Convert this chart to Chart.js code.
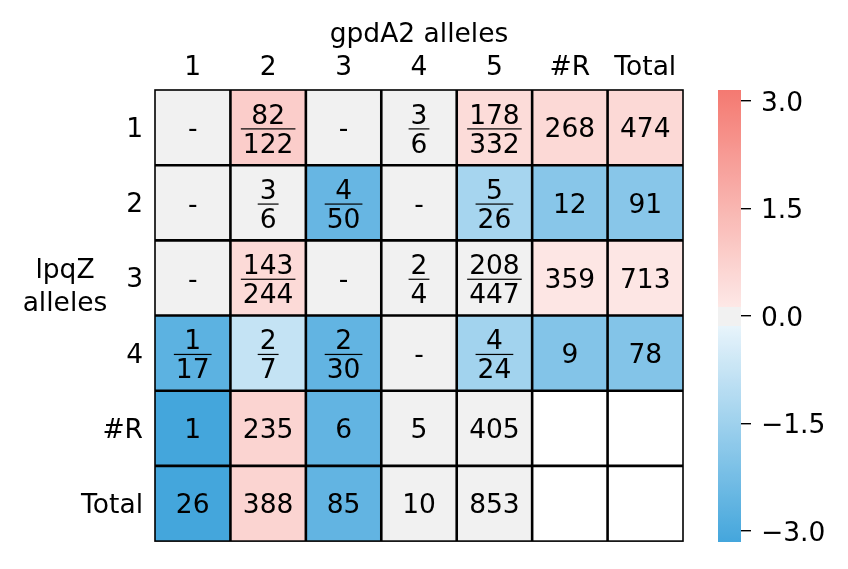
<!DOCTYPE html>
<html>
<head>
<meta charset="utf-8">
<script src="https://cdn.jsdelivr.net/npm/chart.js@4/dist/chart.umd.min.js"></script>
<style>
  html, body { margin: 0; padding: 0; background: #fff; }
  #wrap { position: relative; width: 848px; height: 569px; }
  #wrap canvas { position: absolute; left: 0; top: 0; }
</style>
</head>
<body>
<div id="wrap">
  <canvas id="heat" width="848" height="569"></canvas>
  <canvas id="cbar" width="848" height="569"></canvas>
</div>
<script>
// ---------- data ----------
const colLabels = ['1', '2', '3', '4', '5', '#R', 'Total'];   // gpdA2 alleles
const rowLabels = ['1', '2', '3', '4', '#R', 'Total'];        // lpqZ alleles
const xTitle = 'gpdA2 alleles';
const yTitle = ['lpqZ', 'alleles'];

// numerators (or plain counts); '-' = no data
const numerators = [
  ['-', '82', '-', '3', '178', '268', '474'],
  ['-', '3', '4', '-', '5', '12', '91'],
  ['-', '143', '-', '2', '208', '359', '713'],
  ['1', '2', '2', '-', '4', '9', '78'],
  ['1', '235', '6', '5', '405', '', ''],
  ['26', '388', '85', '10', '853', '', '']
];
// denominators (null = plain number)
const denominators = [
  [null, '122', null, '6', '332', null, null],
  [null, '6', '50', null, '26', null, null],
  [null, '244', null, '4', '447', null, null],
  ['17', '7', '30', null, '24', null, null],
  [null, null, null, null, null, null, null],
  [null, null, null, null, null, null, null]
];
// colour scores (null = empty white cell)
const scores = [
  [0, 0.86, 0, 0, 0.46, 0.54, 0.54],
  [0, 0, -2.52, 0, -1.35, -1.90, -1.90],
  [0, 0.51, 0, 0, 0, 0.19, 0.19],
  [-2.71, -0.80, -2.60, 0, -1.43, -2.0, -2.0],
  [-3.3, 0.675, -2.60, 0, 0, null, null],
  [-3.3, 0.675, -2.60, 0, 0, null, null]
];
const cbTicks = [-3, -1.5, 0, 1.5, 3];
const vMin = -3.155, vMax = 3.155;

// ---------- colour map ----------
const GREY = [241, 241, 241];
const RED0 = [253, 232, 230], RED1 = [244, 121, 113];
const BLU0 = [232, 244, 251], BLU1 = [68, 166, 220];
const greyHi = 0.13, greyLo = -0.14;
function mix(a, b, t) {
  return 'rgb(' + a.map((c, i) => Math.round(c + (b[i] - c) * t)).join(',') + ')';
}
function cmap(v) {
  if (v === null || v === undefined) return '#ffffff';
  if (v > greyHi) return mix(RED0, RED1, Math.min(1, (v - greyHi) / (vMax - greyHi)));
  if (v < greyLo) return mix(BLU0, BLU1, Math.min(1, (greyLo - v) / (greyLo - vMin)));
  return 'rgb(' + GREY.join(',') + ')';
}

const FS = 26.5;
Chart.defaults.font.family = "'DejaVu Sans', sans-serif";
Chart.defaults.font.size = FS;
Chart.defaults.color = '#000';

// ---------- heatmap ----------
const datasets = rowLabels.map((rl, r) => ({
  label: rl,
  data: colLabels.map(() => [r, r + 1]),
  backgroundColor: colLabels.map((_, c) => cmap(scores[r][c])),
  borderWidth: 0,
  inflateAmount: 0.5,
  barPercentage: 1,
  categoryPercentage: 1,
  grouped: false
}));

const cellTextPlugin = {
  id: 'cellText',
  afterDatasetsDraw(chart) {
    const ctx = chart.ctx;
    const xs = chart.scales.x, ys = chart.scales.y;
    ctx.save();
    // cell edges
    ctx.strokeStyle = '#000';
    const x0 = xs.getPixelForValue(-0.5), x1 = xs.getPixelForValue(colLabels.length - 0.5);
    const y0 = ys.getPixelForValue(0), y1 = ys.getPixelForValue(rowLabels.length);
    ctx.lineWidth = 2.6;
    ctx.beginPath();
    for (let c = 1; c < colLabels.length; c++) {
      const x = xs.getPixelForValue(c - 0.5);
      ctx.moveTo(x, y0); ctx.lineTo(x, y1);
    }
    for (let r = 1; r < rowLabels.length; r++) {
      const y = ys.getPixelForValue(r);
      ctx.moveTo(x0, y); ctx.lineTo(x1, y);
    }
    ctx.stroke();
    ctx.lineWidth = 1.6;
    ctx.strokeRect(x0, y0, x1 - x0, y1 - y0);

    ctx.font = FS + "px 'DejaVu Sans'";
    ctx.fillStyle = '#000';
    ctx.textAlign = 'center';
    ctx.textBaseline = 'alphabetic';
    for (let r = 0; r < rowLabels.length; r++) {
      const cy = ys.getPixelForValue(r + 0.5);
      for (let c = 0; c < colLabels.length; c++) {
        const cx = xs.getPixelForValue(c);
        const n = numerators[r][c], d = denominators[r][c];
        if (d === null) {
          if (n) ctx.fillText(n, cx, cy + 9.8);
        } else {
          const barY = cy + 1.3;
          ctx.fillText(n, cx, barY - 5);
          ctx.fillText(d, cx, barY + 23.8);
          const w = Math.max(ctx.measureText(n).width, ctx.measureText(d).width) + 4;
          ctx.fillRect(cx - w / 2, barY - 0.6, w, 1.2);
        }
      }
    }
    // horizontal y-axis title
    const yx = 65;
    const yt = ys.getPixelForValue(2.5);
    yTitle.forEach((t, i) => ctx.fillText(t, yx, yt + i * 33.5));
    ctx.restore();
  }
};

new Chart(document.getElementById('heat'), {
  type: 'bar',
  data: { labels: colLabels, datasets },
  options: {
    responsive: false,
    animation: false,
    devicePixelRatio: 1,
    layout: { padding: { left: 0, top: 0, right: 165, bottom: 27 } },
    plugins: { legend: { display: false }, tooltip: { enabled: false } },
    scales: {
      x: {
        type: 'category',
        position: 'top',
        offset: true,
        grid: { display: false, drawTicks: false },
        border: { display: false },
        ticks: { padding: 6, maxRotation: 0, font: { size: FS } },
        title: { display: true, text: xTitle, font: { size: FS }, padding: { top: 19, bottom: 0 } },
        afterFit(s) { s.height = 90; }
      },
      y: {
        type: 'linear',
        min: 0, max: rowLabels.length,
        reverse: true,
        grid: { display: false, drawTicks: false },
        border: { display: false },
        afterBuildTicks(s) { s.ticks = rowLabels.map((_, i) => ({ value: i + 0.5 })); },
        ticks: {
          padding: 12,
          labelOffset: 2.5,
          font: { size: FS },
          callback: (v) => rowLabels[Math.floor(v)]
        },
        afterFit(s) { s.width = 155; }
      }
    }
  },
  plugins: [cellTextPlugin]
});

// ---------- colour bar ----------
function cbGradient(context) {
  const chart = context.chart;
  const area = chart.chartArea;
  if (!area) return '#f1f1f1';
  const g = chart.ctx.createLinearGradient(0, area.bottom, 0, area.top);
  const span = vMax - vMin;
  const N = 120;
  const pts = [];
  for (let i = 0; i <= N; i++) pts.push(vMin + span * i / N);
  pts.push(greyLo - 1e-4, greyLo + 1e-4, greyHi - 1e-4, greyHi + 1e-4);
  pts.sort((a, b) => a - b);
  pts.forEach(v => g.addColorStop(Math.min(1, Math.max(0, (v - vMin) / span)), cmap(v)));
  return g;
}

new Chart(document.getElementById('cbar'), {
  type: 'bar',
  data: {
    labels: [''],
    datasets: [{
      data: [[vMin, vMax]],
      backgroundColor: cbGradient,
      borderWidth: 0,
      inflateAmount: 0,
      barPercentage: 1,
      categoryPercentage: 1
    }]
  },
  options: {
    responsive: false,
    animation: false,
    devicePixelRatio: 1,
    layout: { padding: { left: 718, top: 90, right: 0, bottom: 27 } },
    plugins: { legend: { display: false }, tooltip: { enabled: false } },
    scales: {
      x: { display: false },
      y: {
        position: 'right',
        min: vMin, max: vMax,
        grid: { drawOnChartArea: false, drawTicks: true, tickLength: 10, color: '#000', lineWidth: 1.4 },
        border: { display: false },
        afterBuildTicks(s) { s.ticks = cbTicks.map(v => ({ value: v })); },
        ticks: {
          padding: 10,
          labelOffset: 3,
          font: { size: FS },
          callback: (v) => (v < 0 ? '\u2212' : '') + Math.abs(v).toFixed(1)
        },
        afterFit(s) { s.width = 107; }
      }
    }
  }
});
</script>
</body>
</html>
